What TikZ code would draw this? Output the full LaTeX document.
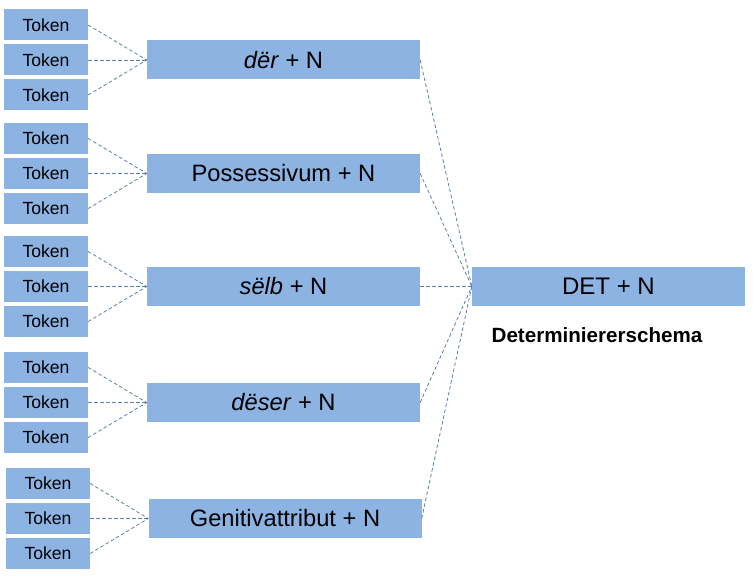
\documentclass[tikz,border=0pt]{standalone}
\usepackage{fontspec}
\setmainfont{Liberation Sans}
\definecolor{boxfill}{HTML}{8DB3E2}
\definecolor{linec}{HTML}{5B7FA6}
\begin{document}
\begin{tikzpicture}[x=1pt,y=-1pt,
  tokenbox/.style={fill=boxfill,minimum width=84pt,minimum height=31pt,inner sep=0pt,font=\fontsize{17.6}{20}\selectfont},
  midbox/.style={fill=boxfill,minimum width=273pt,minimum height=39pt,inner sep=0pt,font=\fontsize{23.7}{26}\selectfont},
  conn/.style={draw=linec,line width=0.8pt,dash pattern=on 3.5pt off 2.5pt}]
\useasboundingbox (0,0) rectangle (753,577);
% mid boxes
\node[midbox] (m1) at (283.5,60) {\textit{dër} + N};
\node[midbox] (m2) at (283.5,173.5) {Possessivum + N};
\node[midbox] (m3) at (283.5,286.5) {\textit{sëlb} + N};
\node[midbox] (m4) at (283.5,402.5) {\textit{dëser} + N};
\node[midbox] (m5) at (285,518.5) {Genitivattribut + N};
\node[fill=boxfill,minimum width=273pt,minimum height=39pt,inner sep=0pt,font=\fontsize{24}{26}\selectfont] (det) at (608.5,286.5) {DET + N};
\node[font=\fontsize{20.6}{24}\selectfont\bfseries] (lbl) at (597,335) {Determiniererschema};
% tokens
\foreach \g/\yc/\xc in {1/60/46,2/173.5/46,3/286.5/46,4/402.5/46,5/518.5/48}{
  \node[tokenbox] (t\g a) at (\xc,\yc-35) {Token};
  \node[tokenbox] (t\g b) at (\xc,\yc) {Token};
  \node[tokenbox] (t\g c) at (\xc,\yc+35) {Token};
  \draw[conn] (t\g a.east) -- (m\g.west);
  \draw[conn] (t\g b.east) -- (m\g.west);
  \draw[conn] (t\g c.east) -- (m\g.west);
  \draw[conn] (m\g.east) -- (det.west);
}
\end{tikzpicture}
\end{document}
